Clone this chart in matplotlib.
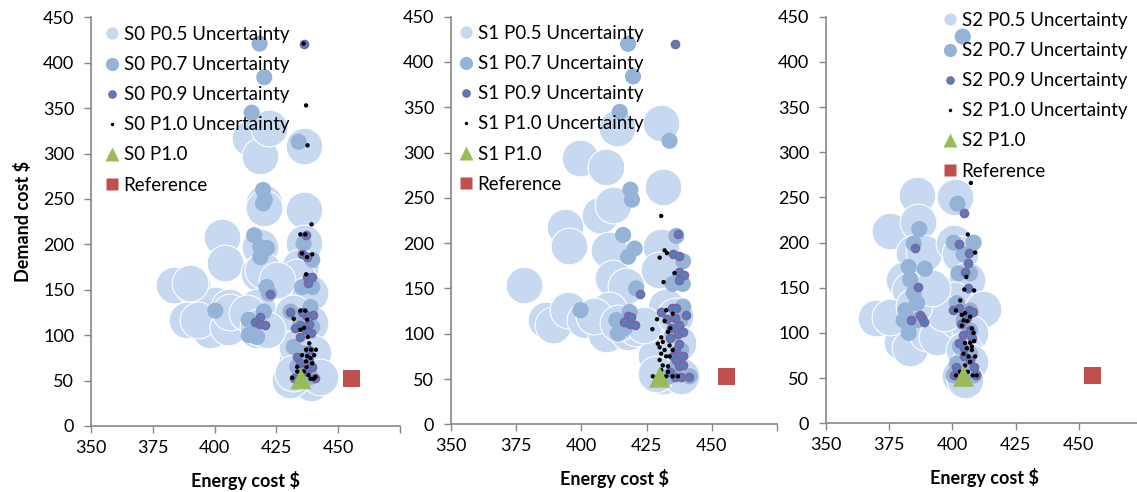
import numpy as np
import matplotlib
matplotlib.use("Agg")
from matplotlib import pyplot as plt
from matplotlib.lines import Line2D

plt.rcParams['font.family'] = ['Lato', 'DejaVu Sans']

# ---- data: (energy cost, demand cost) ----
s0_p05 = [(383.4, 155), (390.8, 155), (388.8, 117), (394, 117), (398, 106), (403, 208),
          (404.3, 179), (400, 133), (406, 131), (406, 113), (414.5, 317), (418.5, 297),
          (422, 328), (420, 245), (420, 240), (418.5, 197), (418, 168), (417, 131),
          (417, 106), (436, 308), (436, 238), (436, 201), (434.7, 175), (437.4, 150),
          (437.4, 117), (432, 102), (433.4, 73), (433.4, 54), (441.5, 54), (438.8, 47),
          (430.7, 51), (390, 157), (393.3, 117), (405.5, 109), (406.3, 126), (413, 124),
          (419.6, 172), (417.6, 109), (433.4, 164), (438.7, 146), (431.8, 124),
          (438.7, 113), (433.4, 87), (440, 80), (431.8, 58), (442.7, 54), (425.3, 161),
          (421.3, 106)]
s0_p07 = [(418.2, 421), (420.1, 384), (415, 345), (434, 313), (419.6, 260), (420.3, 249),
          (419.6, 245), (416, 210), (418.5, 197), (421.2, 196), (418.5, 186), (421, 153),
          (422, 146), (400.3, 127), (419.9, 126), (413.8, 117), (415.8, 113), (413.8, 100),
          (417.2, 98), (430.7, 126), (438.8, 131), (436, 201), (439.5, 183), (435.4, 153),
          (439.5, 153), (432, 87), (433.4, 65), (438.8, 54), (434.7, 113), (439.5, 109),
          (436, 80)]
s0_p09 = [(436, 421), (437, 210), (435.4, 189), (437.4, 186), (437.4, 164), (439.5, 164),
          (437.7, 158), (422.3, 145), (430.4, 125), (418.2, 120), (416.4, 114), (418.5, 112),
          (420.5, 111), (432.7, 108), (434.7, 111), (438, 112), (440, 122), (437, 122),
          (435.4, 126), (439, 102), (434.7, 98), (437, 106), (438.3, 84), (433.4, 76),
          (438.3, 73), (439.5, 65), (437.4, 62), (432, 53), (440.8, 53), (435.4, 58),
          (434.7, 69)]
s0_p10 = [(436, 421), (437, 353), (437.6, 309), (439.2, 222), (434.7, 211), (436.7, 211),
          (435.4, 190), (437.4, 186), (439.5, 189), (437, 167), (432, 118), (434.7, 127),
          (436.7, 127), (437.4, 117), (434.7, 106), (436.2, 108), (437.7, 98), (438.3, 91),
          (437, 84), (439, 84), (441, 84), (440.3, 78), (435.4, 78), (437.4, 77),
          (438.8, 75), (437, 71), (437.2, 65), (436.1, 60), (433.4, 60), (431.4, 53),
          (438.8, 52), (440.8, 54), (440.1, 52), (438, 56), (433.4, 65), (439.5, 69)]
s0_run = [(435, 52)]

s1_p05 = [(377.9, 154), (386.6, 115), (389, 110), (393.6, 218), (395.3, 197), (394.9, 126),
          (401.3, 115), (399.4, 294), (409.6, 284), (407, 231), (412.1, 242), (413.6, 327),
          (410.7, 192), (412, 161), (417.2, 153), (410.7, 126), (409.6, 100), (417.9, 102),
          (421, 106), (430.6, 333), (431.2, 262), (430.6, 196), (429.8, 170), (432.5, 130),
          (431.2, 100), (428.7, 75), (431.2, 53), (438.3, 53), (428.7, 56), (405, 120),
          (414, 112), (424, 110), (436, 120), (437, 90)]
s1_p07 = [(417.9, 420), (419.8, 384), (414.7, 345), (433.8, 313), (418.8, 259), (419.4, 248),
          (416, 209), (420.4, 194), (417.9, 185), (421, 150), (399.7, 126), (418.5, 124),
          (413.4, 115), (414, 100), (416.6, 106), (436.4, 208), (439, 180), (437.6, 162),
          (438.9, 155), (435, 155), (439, 130), (438, 115), (435, 100), (438.2, 82),
          (436.4, 64), (441.5, 53), (433.8, 53)]
s1_p09 = [(436, 420), (437, 210), (435, 188), (437.6, 186), (437.6, 168), (439.2, 165),
          (437.6, 159), (422.3, 144), (416.3, 113), (417.9, 120), (419.2, 119), (418.5, 111),
          (420.4, 110), (430.4, 124), (432.8, 116), (434.9, 128), (436.4, 128), (440, 121),
          (435.7, 117), (437.6, 110), (434.4, 106), (437, 100), (439, 102), (433.8, 95),
          (437.6, 89), (436.4, 82), (438.9, 75), (435, 75), (437.6, 64), (438.9, 66),
          (441.3, 52), (438.3, 52), (435.7, 52), (433.8, 58), (436.4, 71)]
s1_p10 = [(430.6, 230), (430, 184), (431.9, 192), (432.8, 189), (435.7, 167), (431.5, 157),
          (432.5, 126), (435, 122), (429, 116), (431.9, 114), (427.2, 105), (430.6, 96),
          (431.2, 91), (430, 85), (431.9, 82), (430.6, 78), (432.5, 75), (430, 71),
          (433.8, 75), (435, 82), (431.2, 65), (433.2, 64), (430.6, 60), (427.4, 53),
          (432.5, 53), (435, 53), (437, 53), (433.2, 58), (429.3, 89), (434.1, 106),
          (433.2, 102), (433.8, 87)]
s1_run = [(430, 52)]

s2_p05 = [(369.9, 116), (375.4, 213), (386, 253), (386.2, 223), (384.7, 188), (388.6, 188),
          (380.7, 159), (383.3, 147), (380, 90), (383.3, 83), (375.4, 118), (389.9, 100),
          (393.9, 96), (401, 251), (400.5, 199), (403.1, 187), (405.7, 159), (400.5, 136),
          (412.3, 127), (401.8, 114), (407, 100), (404.4, 81), (407, 68), (403.1, 52),
          (405, 48), (396.5, 122), (385, 130), (392, 150)]
s2_p07 = [(404.1, 428), (402, 243), (386.9, 215), (384.7, 199), (389.1, 171), (382.7, 173),
          (383.3, 159), (384.7, 144), (386, 133), (381.4, 125), (380.7, 114), (386, 114),
          (382.7, 100), (400.5, 200), (408.4, 200), (404.4, 187), (402.4, 166), (407, 166),
          (401.8, 133), (407, 125), (404.4, 114), (407, 103), (403, 85), (407, 77),
          (401.8, 66), (405.7, 59), (400.5, 53), (408.4, 53)]
s2_p09 = [(404.5, 233), (385.4, 194), (386.2, 151), (383.6, 114), (387, 120), (387.9, 116),
          (388.9, 112), (402.8, 198), (406.5, 189), (406, 177), (405, 167), (406, 150),
          (400.2, 125), (402.8, 128), (406.4, 125), (408, 123), (403.3, 110), (407, 103),
          (404.2, 98), (407.6, 94), (402.8, 89), (404.4, 75), (407, 70), (401.5, 62),
          (408.6, 62), (400.5, 53), (409.2, 53), (404.4, 83), (405.7, 118)]
s2_p10 = [(407.3, 266), (406.1, 209), (409, 189), (405.5, 162), (408.6, 147), (404.7, 148),
          (403.1, 136), (401.4, 125), (403.7, 120), (405, 122), (407, 118), (404.4, 114),
          (406, 113), (407.7, 105), (408.4, 100), (405, 89), (407, 89), (408.6, 91),
          (405.7, 83), (407.7, 81), (404.4, 77), (406.4, 74), (409, 74), (407, 68),
          (405, 64), (403, 57), (401.4, 53), (408, 53), (409.6, 53), (406.1, 57),
          (407.7, 85), (403.7, 108)]
s2_run = [(404.4, 52)]

reference = [(455.5, 52.5)]

x_ticks = [350, 375, 400, 425, 450, 475]
x_tick_labels = ['350', '375', '400', '425', '450', '']
y_ticks = [0, 50, 100, 150, 200, 250, 300, 350, 400, 450]

LIGHT = '#C6D9F1'
MID = '#95B3D7'
DARK = '#4F81BD'
PURPLE = '#8064A2'
GREEN = '#9BBB59'
RED = '#C0504D'
AXIS_GRAY = '#868686'

W, H = 1137, 492


def fig_box(left, right, top, bottom):
    """pixel box -> figure fraction rect"""
    return [left / W, (H - bottom) / H, (right - left) / W, (bottom - top) / H]


def draw_panel(fig, rect, name, p05, p07, p09, p10, run, legend_xy, ylabel=False):
    ax = fig.add_axes(rect)
    ax.set_facecolor('none')

    p05, p07, p09, p10, run, ref = [np.array(a) for a in (p05, p07, p09, p10, run, reference)]
    ax.scatter(p05[:, 0], p05[:, 1], s=700, c=LIGHT, edgecolors='white', linewidths=0.8, zorder=2)
    ax.scatter(p07[:, 0], p07[:, 1], s=135, c=MID, edgecolors='none', zorder=3)
    ax.scatter(p09[:, 0], p09[:, 1], s=32, c=DARK, edgecolors=PURPLE, linewidths=1.3, zorder=4)
    ax.scatter(p10[:, 0], p10[:, 1], s=10, c='black', edgecolors='none', zorder=5)
    ax.scatter(run[:, 0], run[:, 1], s=230, c=GREEN, marker='^', edgecolors='none', zorder=6)
    ax.scatter(ref[:, 0], ref[:, 1], s=150, c=RED, marker='s', edgecolors='none', zorder=7)

    ax.set_xlim(350, 475)
    ax.set_ylim(0, 450)
    ax.set_xticks(x_ticks)
    ax.set_xticklabels(x_tick_labels)
    ax.set_yticks(y_ticks)
    ax.tick_params(axis='both', direction='out', length=5, width=1, color=AXIS_GRAY,
                   labelsize=13, labelcolor='black')
    ax.tick_params(axis='x', pad=5)
    ax.tick_params(axis='y', pad=7)
    for side in ('top', 'right'):
        ax.spines[side].set_visible(False)
    for side in ('left', 'bottom'):
        ax.spines[side].set_color(AXIS_GRAY)
        ax.spines[side].set_linewidth(1.2)

    ax.set_xlabel('Energy cost $', fontsize=13, fontweight='bold', labelpad=11)
    if ylabel:
        ax.set_ylabel('Demand cost $', fontsize=13, fontweight='bold', labelpad=8)

    # legend with Excel-like small markers
    handles = [
        Line2D([], [], ls='none', marker='o', ms=9.5, mfc=LIGHT, mec='white', mew=0.6),
        Line2D([], [], ls='none', marker='o', ms=9.5, mfc=MID, mec='none'),
        Line2D([], [], ls='none', marker='o', ms=5, mfc=DARK, mec=PURPLE, mew=1.2),
        Line2D([], [], ls='none', marker='o', ms=2.5, mfc='black', mec='none'),
        Line2D([], [], ls='none', marker='^', ms=10, mfc=GREEN, mec='none'),
        Line2D([], [], ls='none', marker='s', ms=9, mfc=RED, mec='none'),
    ]
    labels = [f'{name} P0.5 Uncertainty', f'{name} P0.7 Uncertainty',
              f'{name} P0.9 Uncertainty', f'{name} P1.0 Uncertainty',
              f'{name} P1.0', 'Reference']
    lx, ly = legend_xy
    ax.legend(handles, labels, loc='upper left', bbox_to_anchor=(lx / W, 1 - ly / H),
              bbox_transform=fig.transFigure, frameon=False, fontsize=13.5,
              handlelength=0.8, handletextpad=0.25, labelspacing=0.7, borderpad=0,
              borderaxespad=0)
    return ax


fig = plt.figure(figsize=(W / 100, H / 100), dpi=100)

draw_panel(fig, fig_box(91, 400, 17.3, 426), 'S0', s0_p05, s0_p07, s0_p09, s0_p10, s0_run,
           (104, 26), ylabel=True)
draw_panel(fig, fig_box(451, 777, 16.7, 424.3), 'S1', s1_p05, s1_p07, s1_p09, s1_p10, s1_run,
           (458, 25))
draw_panel(fig, fig_box(826, 1142, 16.7, 423.3), 'S2', s2_p05, s2_p07, s2_p09, s2_p10, s2_run,
           (942, 12))

fig.savefig('out.png', dpi=100)
